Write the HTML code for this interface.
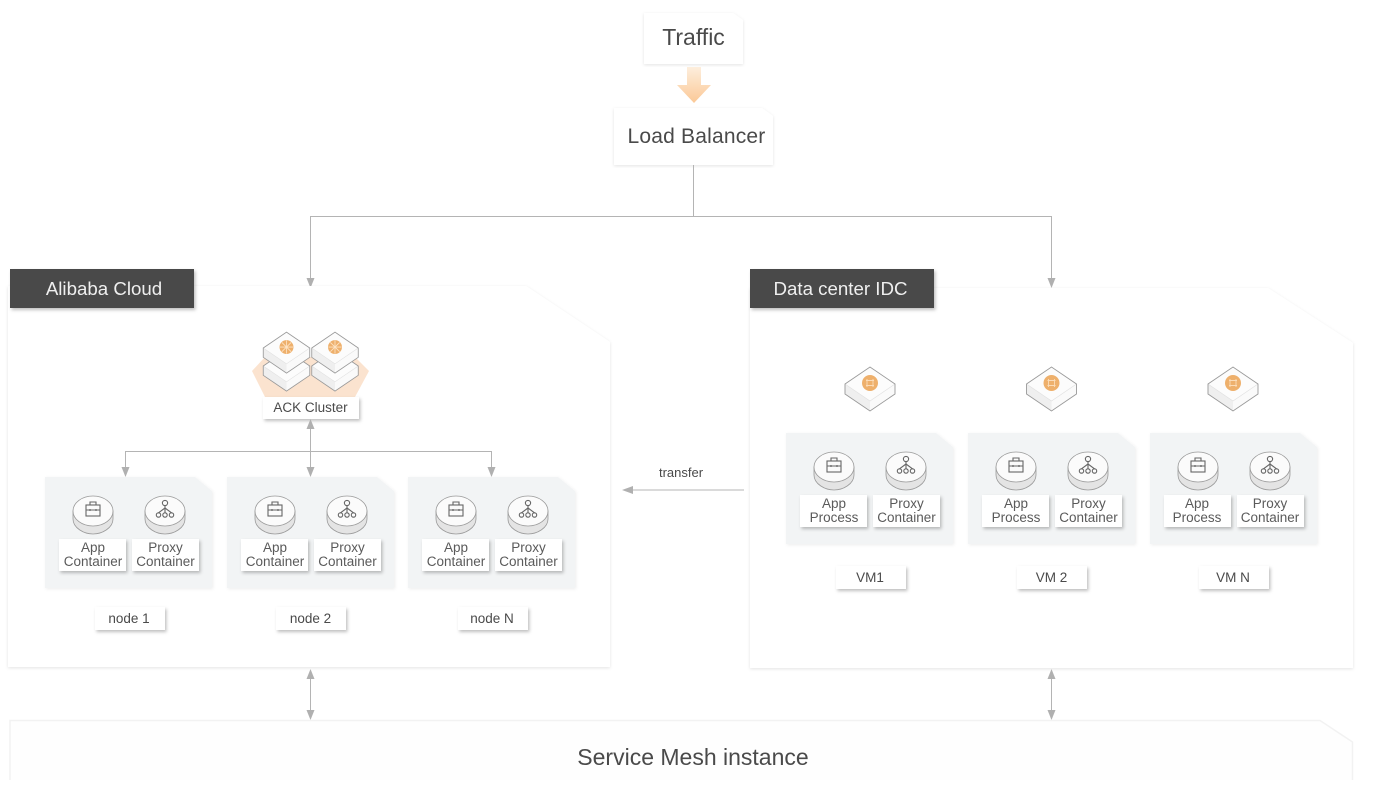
<!DOCTYPE html>
<html><head><meta charset="utf-8"><style>
html,body{margin:0;padding:0;background:#fff;width:1379px;height:792px;overflow:hidden}
svg{display:block;filter:blur(.35px)}
text{font-family:"Liberation Sans",sans-serif;fill:#4a4a4a;text-anchor:middle}
.l{font-size:13.5px;fill:#5a5a5a}
.n{font-size:13.5px;fill:#4a4a4a}
</style></head><body>
<svg width="1379" height="792" viewBox="0 0 1379 792" xmlns="http://www.w3.org/2000/svg">
<defs>
<filter id="s" x="-20%" y="-20%" width="140%" height="150%"><feDropShadow dx="1.5" dy="2" stdDeviation="1.5" flood-color="#000" flood-opacity=".25"/></filter>
<filter id="p" x="-5%" y="-5%" width="110%" height="110%"><feDropShadow dx="0" dy="1" stdDeviation="1.5" flood-color="#000" flood-opacity=".11"/></filter>
<filter id="g" x="-10%" y="-10%" width="120%" height="120%"><feDropShadow dx="1" dy="1" stdDeviation="1.5" flood-color="#000" flood-opacity=".07"/></filter>
<linearGradient id="ar" x1="0" y1="0" x2="0" y2="1"><stop offset="0" stop-color="#fdeedd"/><stop offset="1" stop-color="#fbc896"/></linearGradient>
<g id="ah"><path d="M-4 -10L4 -10L0 0Z" fill="#b0b0b0"/></g>
<g id="cyl">
<path d="M-20 0V8C-20 17 -9 23 0 23C9 23 20 17 20 8V0Z" fill="#e4e4e4" stroke="#9a9a9a" stroke-width=".8"/>
<ellipse cx="0" cy="0" rx="20" ry="15" fill="#fbfbfb" stroke="#9a9a9a" stroke-width=".8"/>
</g>
<g id="bag" fill="none" stroke="#666" stroke-width="1.1">
<rect x="-7" y="-5" width="14" height="11"/><path d="M-3 -5V-8H3V-5M-7 0H7M-3 -1V1M3 -1V1"/>
</g>
<g id="tree" fill="none" stroke="#666" stroke-width="1.1">
<circle cx="0" cy="-7" r="2.6"/><circle cx="-6.5" cy="5" r="2.2"/><circle cx="0" cy="5" r="2.2"/><circle cx="6.5" cy="5" r="2.2"/>
<path d="M0 -4.5V3M0 -2L-6.5 2.8M0 -2L6.5 2.8"/>
</g>
<g id="cell">
<path d="M0 0H150L167 14V111H0Z" fill="#f2f4f5" filter="url(#g)"/>
<use href="#cyl" x="48" y="34"/><use href="#bag" x="48" y="33"/>
<use href="#cyl" x="120" y="34"/><use href="#tree" x="120" y="33"/>
<rect x="14" y="62" width="67" height="32" fill="#fff" filter="url(#s)"/>
<rect x="87" y="62" width="67" height="32" fill="#fff" filter="url(#s)"/>
</g>
<g id="cube">
<path d="M-25 0L0 -17L25 0V10L0 27L-25 10Z" fill="#efefef"/>
<path d="M-25 0L0 -17L25 0L0 17Z" fill="#fcfcfc"/>
<path d="M0 17V27L25 10V0Z" fill="#fafafa"/>
<path d="M-25 0L0 17L25 0" fill="none" stroke="#e0e0e0" stroke-width=".6"/>
<path d="M-25 0L0 -17L25 0V10L0 27L-25 10Z" fill="none" stroke="#999" stroke-width=".9"/>
</g>
<g id="orb"><circle r="7.5" fill="#eeb06c"/><path d="M-7 0H7M0 -7V7M-5 -5L5 5M-5 5L5 -5" stroke="#fde3c4" stroke-width=".9"/></g>
<g id="orb2"><circle r="8" fill="#eeb06c"/><path d="M-3 -4V4M3 -4V4M-4 -2.500H4M-4 2.500H4" stroke="#fbdcb8" stroke-width=".9" fill="none"/></g>
</defs>

<!-- Traffic / LB -->
<path d="M644 13H733L743 20V64H644Z" fill="#fff" filter="url(#p)"/>
<text x="693.500" y="45" style="font-size:23px">Traffic</text>
<path d="M687 67H701V85H711L694 103L677 85H687Z" fill="url(#ar)"/>
<path d="M614 108H762L773 116V165H614Z" fill="#fff" filter="url(#p)"/>
<text x="696.500" y="143" style="font-size:21px;letter-spacing:.2px">Load Balancer</text>

<!-- Connectors -->
<path d="M693.500 165V216.500M310.500 279V216.500H1051.500V279" fill="none" stroke="#b4b4b4" stroke-width="1"/>
<use href="#ah" x="310.500" y="288"/><use href="#ah" x="1051.500" y="288"/>

<!-- Panels -->
<path d="M8 286H526L610 342V667H8Z" fill="#fff" filter="url(#p)"/>
<path d="M750 288H1268L1353 343V668H750Z" fill="#fff" filter="url(#p)"/>
<rect x="10" y="269" width="184" height="39" fill="#4a4a4a" filter="url(#s)"/>
<text x="104" y="295" style="font-size:18.7px;fill:#efefef">Alibaba Cloud</text>
<rect x="750" y="269" width="184" height="39" fill="#4a4a4a" filter="url(#s)"/>
<text x="840.500" y="295" style="font-size:18.7px;fill:#efefef">Data center IDC</text>

<!-- ACK cluster -->
<path d="M252 371L265 357H355L369 371L355 397H265Z" fill="#fbe3cf"/>
<g transform="translate(286.500 366) scale(.93)"><use href="#cube"/></g>
<g transform="translate(335 366) scale(.93)"><use href="#cube"/></g>
<g transform="translate(286.500 348) scale(.93)"><use href="#cube"/><use href="#orb" y="-1"/></g>
<g transform="translate(335 348) scale(.93)"><use href="#cube"/><use href="#orb" y="-1"/></g>
<rect x="263" y="397" width="96" height="22" fill="#fff" filter="url(#s)"/>
<text class="n" x="310.500" y="412">ACK Cluster</text>

<!-- Cluster connectors -->
<path d="M125.500 469V451.500H491.500V469M310.500 428V469" fill="none" stroke="#b4b4b4" stroke-width="1"/>
<use href="#ah" x="125.500" y="477"/><use href="#ah" x="310.500" y="477"/><use href="#ah" x="491.500" y="477"/>
<g transform="translate(310.500 419) rotate(180)"><use href="#ah"/></g>

<!-- Left cells -->
<use href="#cell" x="45" y="477"/><use href="#cell" x="227" y="477"/><use href="#cell" x="408" y="477"/>
<text class="l" x="93" y="552">App</text><text class="l" x="93" y="566">Container</text>
<text class="l" x="165.500" y="552">Proxy</text><text class="l" x="165.500" y="566">Container</text>
<text class="l" x="275" y="552">App</text><text class="l" x="275" y="566">Container</text>
<text class="l" x="347.500" y="552">Proxy</text><text class="l" x="347.500" y="566">Container</text>
<text class="l" x="456" y="552">App</text><text class="l" x="456" y="566">Container</text>
<text class="l" x="528.500" y="552">Proxy</text><text class="l" x="528.500" y="566">Container</text>
<rect x="95" y="607" width="70" height="23" fill="#fff" filter="url(#s)"/><text class="n" x="129" y="623">node 1</text>
<rect x="276" y="607" width="70" height="23" fill="#fff" filter="url(#s)"/><text class="n" x="310.500" y="623">node 2</text>
<rect x="458" y="607" width="70" height="23" fill="#fff" filter="url(#s)"/><text class="n" x="492" y="623">node N</text>

<!-- Transfer -->
<text class="n" x="681" y="477" style="font-size:13px">transfer</text>
<path d="M744 490H630" stroke="#b4b4b4" stroke-width="1"/>
<path d="M622 490L633 486V494Z" fill="#b0b0b0"/>

<!-- Right cubes -->
<use href="#cube" x="870" y="384"/><use href="#orb2" x="870" y="383"/>
<use href="#cube" x="1051.500" y="384"/><use href="#orb2" x="1051.500" y="383"/>
<use href="#cube" x="1233" y="384"/><use href="#orb2" x="1233" y="383"/>

<!-- Right cells -->
<use href="#cell" x="786" y="433"/><use href="#cell" x="968" y="433"/><use href="#cell" x="1150" y="433"/>
<text class="l" x="834" y="508">App</text><text class="l" x="834" y="522">Process</text>
<text class="l" x="906.500" y="508">Proxy</text><text class="l" x="906.500" y="522">Container</text>
<text class="l" x="1016" y="508">App</text><text class="l" x="1016" y="522">Process</text>
<text class="l" x="1088.500" y="508">Proxy</text><text class="l" x="1088.500" y="522">Container</text>
<text class="l" x="1197" y="508">App</text><text class="l" x="1197" y="522">Process</text>
<text class="l" x="1270" y="508">Proxy</text><text class="l" x="1270" y="522">Container</text>
<rect x="836" y="566" width="70" height="23" fill="#fff" filter="url(#s)"/><text class="n" x="870" y="582">VM1</text>
<rect x="1017" y="566" width="70" height="23" fill="#fff" filter="url(#s)"/><text class="n" x="1051.500" y="582">VM 2</text>
<rect x="1199" y="566" width="70" height="23" fill="#fff" filter="url(#s)"/><text class="n" x="1233" y="582">VM N</text>

<!-- Vertical double arrows -->
<path d="M310.500 678V711M1051.500 678V711" stroke="#b4b4b4" stroke-width="1"/>
<use href="#ah" x="310.500" y="720"/><use href="#ah" x="1051.500" y="720"/>
<g transform="translate(310.500 669) rotate(180)"><use href="#ah"/></g>
<g transform="translate(1051.500 669) rotate(180)"><use href="#ah"/></g>

<!-- Service Mesh -->
<path d="M10 780V720.500H1320L1352.500 742V780" fill="#fefefe" stroke="#f2f2f2" stroke-width="1.500"/>
<text x="693" y="765" style="font-size:23px">Service Mesh instance</text>
</svg>
</body></html>
